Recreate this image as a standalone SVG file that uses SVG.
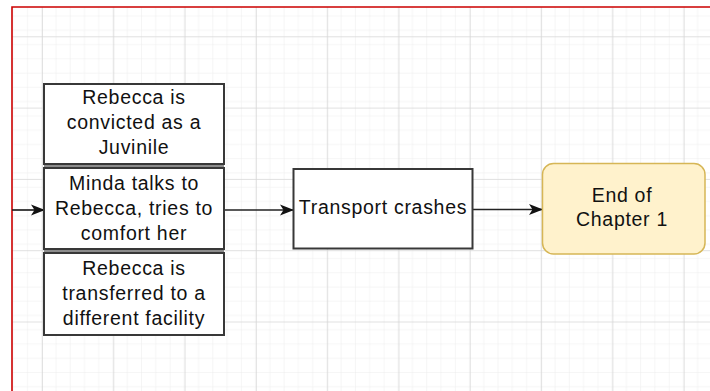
<svg xmlns="http://www.w3.org/2000/svg" width="710" height="391" viewBox="0 0 710 391">
  <style>
    .box { fill: #ffffff; stroke: #383838; stroke-width: 2; }
    .end { fill: #fff2cc; stroke: #d6b656; stroke-width: 1.5; }
    .lbl { font-family: "Liberation Sans", Arial, sans-serif; font-size: 19.5px; letter-spacing: 0.7px; fill: #111111; text-anchor: middle; }
    .edge { fill: none; stroke: #222222; stroke-width: 1.7; }
    .seam { fill: #8c8c8c; }
  </style>
  <defs>
    <pattern id="minor" patternUnits="userSpaceOnUse" x="42" y="36.3" width="14.26" height="14.26">
      <path d="M0 0H14.26M0 0V14.26" fill="none" stroke="#ececec" stroke-width="1"/>
    </pattern>
    <pattern id="major" patternUnits="userSpaceOnUse" x="42" y="36.3" width="71.3" height="71.3">
      <rect width="71.3" height="71.3" fill="url(#minor)"/>
      <path d="M0 0H71.3M0 0V71.3" fill="none" stroke="#d6d6d6" stroke-width="1.4"/>
    </pattern>
    <marker id="arrow" viewBox="0 0 14 14" refX="13" refY="7" markerWidth="14" markerHeight="14" markerUnits="userSpaceOnUse" orient="auto">
      <path d="M0 1.5 L14 7 L0 12.5 L3.5 7 Z" fill="#111111"/>
    </marker>
  </defs>

  <rect width="710" height="391" fill="#ffffff"/>
  <!-- canvas grid -->
  <rect x="12" y="7" width="698" height="384" fill="url(#major)"/>
  <!-- page border -->
  <path d="M12 391V7H710" fill="none" stroke="#cc0000" stroke-width="1.6"/>

  <g id="connectors">
    <path class="edge" d="M12 210H44" marker-end="url(#arrow)"/>
    <path class="edge" d="M224 210H293" marker-end="url(#arrow)"/>
    <path class="edge" d="M473 209.5H542" marker-end="url(#arrow)"/>
  </g>

  <!-- seams between the stacked boxes -->
  <rect class="seam" x="44" y="164" width="180" height="4"/>
  <rect class="seam" x="44" y="249" width="180" height="4"/>

  <g id="convicted">
    <rect class="box" x="44" y="84" width="180" height="80"/>
    <text class="lbl" x="134" y="104">Rebecca is</text>
    <text class="lbl" x="134" y="129">convicted as a</text>
    <text class="lbl" x="134" y="154">Juvinile</text>
  </g>

  <g id="minda">
    <rect class="box" x="44" y="168" width="180" height="81"/>
    <text class="lbl" x="134" y="189.5">Minda talks to</text>
    <text class="lbl" x="134" y="214.5">Rebecca, tries to</text>
    <text class="lbl" x="134" y="239.5">comfort her</text>
  </g>

  <g id="transferred">
    <rect class="box" x="44" y="253" width="180" height="82"/>
    <text class="lbl" x="134" y="274.5">Rebecca is</text>
    <text class="lbl" x="134" y="299.5">transferred to a</text>
    <text class="lbl" x="134" y="324.5">different facility</text>
  </g>

  <g id="transport">
    <rect class="box" x="293.5" y="169" width="179" height="79.5"/>
    <text class="lbl" x="383" y="214">Transport crashes</text>
  </g>

  <g id="end">
    <rect class="end" x="542.5" y="163.5" width="162.5" height="90.5" rx="11" ry="11"/>
    <text class="lbl" x="622" y="202">End of</text>
    <text class="lbl" x="622" y="226">Chapter 1</text>
  </g>
</svg>
